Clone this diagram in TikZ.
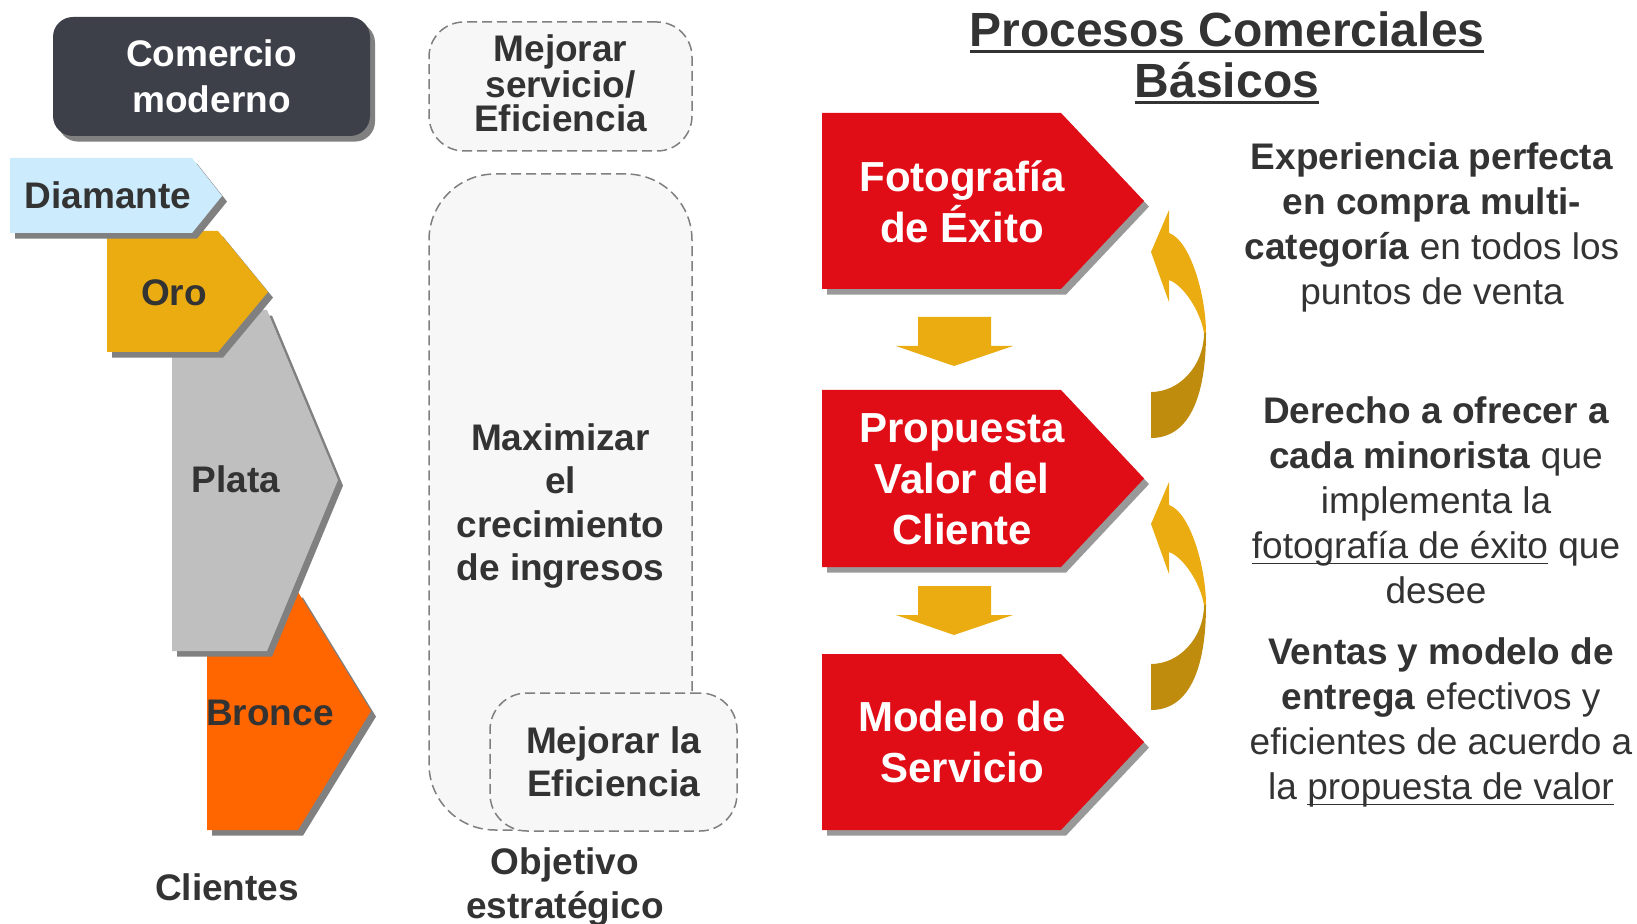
\documentclass[tikz,border=0pt]{standalone}
\usepackage{fontspec}
\setmainfont{Liberation Sans}
\usetikzlibrary{positioning,calc}

\definecolor{cajaoscura}{HTML}{3D4049}
\definecolor{textogris}{HTML}{333333}
\definecolor{sombragris}{HTML}{808080}
\definecolor{sombraroja}{HTML}{999999}
\definecolor{diamante}{HTML}{CCEBFC}
\definecolor{oro}{HTML}{EBAC12}
\definecolor{orobajo}{HTML}{C08C0E}
\definecolor{plata}{HTML}{BFBFBF}
\definecolor{bronce}{HTML}{FF6600}
\definecolor{rojo}{HTML}{E00D17}
\definecolor{cajagris}{HTML}{F7F7F7}
\definecolor{rayagris}{HTML}{7F7F7F}

\newsavebox{\subrbox}
\newcommand{\subr}[3][-3pt]{\sbox{\subrbox}{#3}\rlap{\rule[#1]{\wd\subrbox}{#2}}\usebox{\subrbox}}

\begin{document}
\begin{tikzpicture}[x=0.5pt,y=-0.5pt,
    sombra/.style={preaction={fill=#1,transform canvas={shift={(2.5pt,-2.8pt)}}}},
    sombra/.default=sombragris,
    etiqueta/.style={font=\fontsize{18.5}{22}\selectfont\bfseries, text=textogris, align=center, inner sep=0pt},
    caja/.style={draw=rayagris, fill=cajagris, dash pattern=on 5pt off 2.5pt, line width=0.75pt,
        align=center, text=textogris, inner sep=0pt},
    proceso/.style={font=\fontsize{21}{25.5}\selectfont\bfseries, text=white, align=center, inner sep=0pt},
    parrafo/.style={font=\fontsize{18.5}{22.5}\selectfont, text=textogris, align=center, inner sep=0pt}]
\useasboundingbox (0,0) rectangle (1637,924);

% Clientes
\node[sombra, fill=cajaoscura, rounded corners=10pt, minimum width=158.5pt, minimum height=59.5pt,
    font=\fontsize{18.5}{23pt}\selectfont\bfseries, text=white, align=center] (comercio) at (211.5,76.5) {Comercio\\moderno};

\fill[sombra, bronce] (207,592) -- (298,592) -- (371,711) -- (298,830) -- (207,830) -- cycle;
\fill[sombra, plata] (172,310) -- (267,310) -- (338,480) -- (267,651) -- (172,651) -- cycle;
\fill[sombra, oro] (107,231) -- (218,231) -- (268,292) -- (218,352) -- (107,352) -- cycle;
\fill[sombra, diamante] (10,158) -- (192,158) -- (222,196) -- (192,233) -- (10,233) -- cycle;

\node[etiqueta] (diam) at (108,195) {Diamante};
\node[etiqueta] (oro) at (174,293) {Oro};
\node[etiqueta] (plata) at (236,479) {Plata};
\node[etiqueta] (bronce) at (270,713) {Bronce};
\node[etiqueta] (clientes) at (227,887) {Clientes};

% Objetivo estrategico
\node[caja, rounded corners=17.5pt, minimum width=131.5pt, minimum height=64.5pt,
    font=\fontsize{18.5}{16.8}\selectfont\bfseries] (servicio) at (560.5,86.5) {};
\node[font=\fontsize{18.5}{16.8}\selectfont\bfseries, text=textogris, align=center, inner sep=0pt]
    (servtxt) at (560.5,83) {Mejorar\\servicio/\\Eficiencia};
\node[caja, rounded corners=33pt, minimum width=131.5pt, minimum height=328pt] (maximizar) at (560.5,502) {};
\node[font=\fontsize{18.5}{21.7}\selectfont\bfseries, text=textogris, align=center, inner sep=0pt]
    (maxtxt) at (560.5,506) {Maximizar\\el\\crecimiento\\de ingresos};
\node[caja, rounded corners=18.5pt, minimum width=123.5pt, minimum height=69pt,
    font=\fontsize{18.5}{21.5}\selectfont\bfseries] (eficiencia) at (613.5,762) {Mejorar la\\Eficiencia};
\node[etiqueta] (objetivo) at (565,887) {Objetivo\\estratégico};

% Procesos
\node[font=\fontsize{24}{25.5}\selectfont\bfseries, text=textogris, align=center, inner sep=0pt] (titulo) at (1227,58)
    {\subr[-3.5pt]{1.5pt}{Procesos Comerciales}\\\subr[-3.5pt]{1.5pt}{Básicos}};

\fill[sombra=sombraroja, rojo] (822,113) -- (1061,113) -- (1144,201) -- (1061,289) -- (822,289) -- cycle;
\fill[sombra=sombraroja, rojo] (822,390) -- (1061,390) -- (1144,478.5) -- (1061,567) -- (822,567) -- cycle;
\fill[sombra=sombraroja, rojo] (822,654) -- (1061,654) -- (1144,742) -- (1061,830) -- (822,830) -- cycle;

\node[proceso] (foto) at (962,202) {Fotografía\\de Éxito};
\node[proceso] (valor) at (962,479) {Propuesta\\Valor del\\Cliente};
\node[proceso] (modelo) at (962,742) {Modelo de\\Servicio};

% flechas hacia abajo
\foreach \dy in {0,269}{
  \fill[oro, shift={(0,\dy)}] (918,317) -- (991,317) -- (991,346) -- (1013,346) -- (954,366) -- (896,346) -- (918,346) -- cycle;
}

% flechas curvas
\foreach \dy in {0,272}{
  \begin{scope}[shift={(0,\dy)}]
    \fill[oro] (1169,210) -- (1169,233) .. controls (1190,240) and (1206,295) .. (1206,333)
        -- (1204,333) .. controls (1200,310) and (1183,285) .. (1169,280) -- (1169,302) -- (1151,252) -- cycle;
    \fill[orobajo] (1206,333) .. controls (1206,395) and (1190,438) .. (1151,438)
        -- (1151,392) .. controls (1180,392) and (1204,365) .. (1204,333) -- cycle;
  \end{scope}
}

\node[parrafo] (experiencia) at (1432,227) {\textbf{Experiencia perfecta}\\\textbf{en compra multi-}\\\textbf{categoría} en todos los\\puntos de venta};
\node[parrafo] (derecho) at (1436,500) {\textbf{Derecho a ofrecer a}\\\textbf{cada minorista} que\\implementa la\\\subr{0.75pt}{fotografía de éxito} que\\desee};
\node[parrafo] (ventas) at (1441,722) {\textbf{Ventas y modelo de}\\\textbf{entrega} efectivos y\\eficientes de acuerdo a\\la \subr{0.75pt}{propuesta de valor}};
\end{tikzpicture}
\end{document}
